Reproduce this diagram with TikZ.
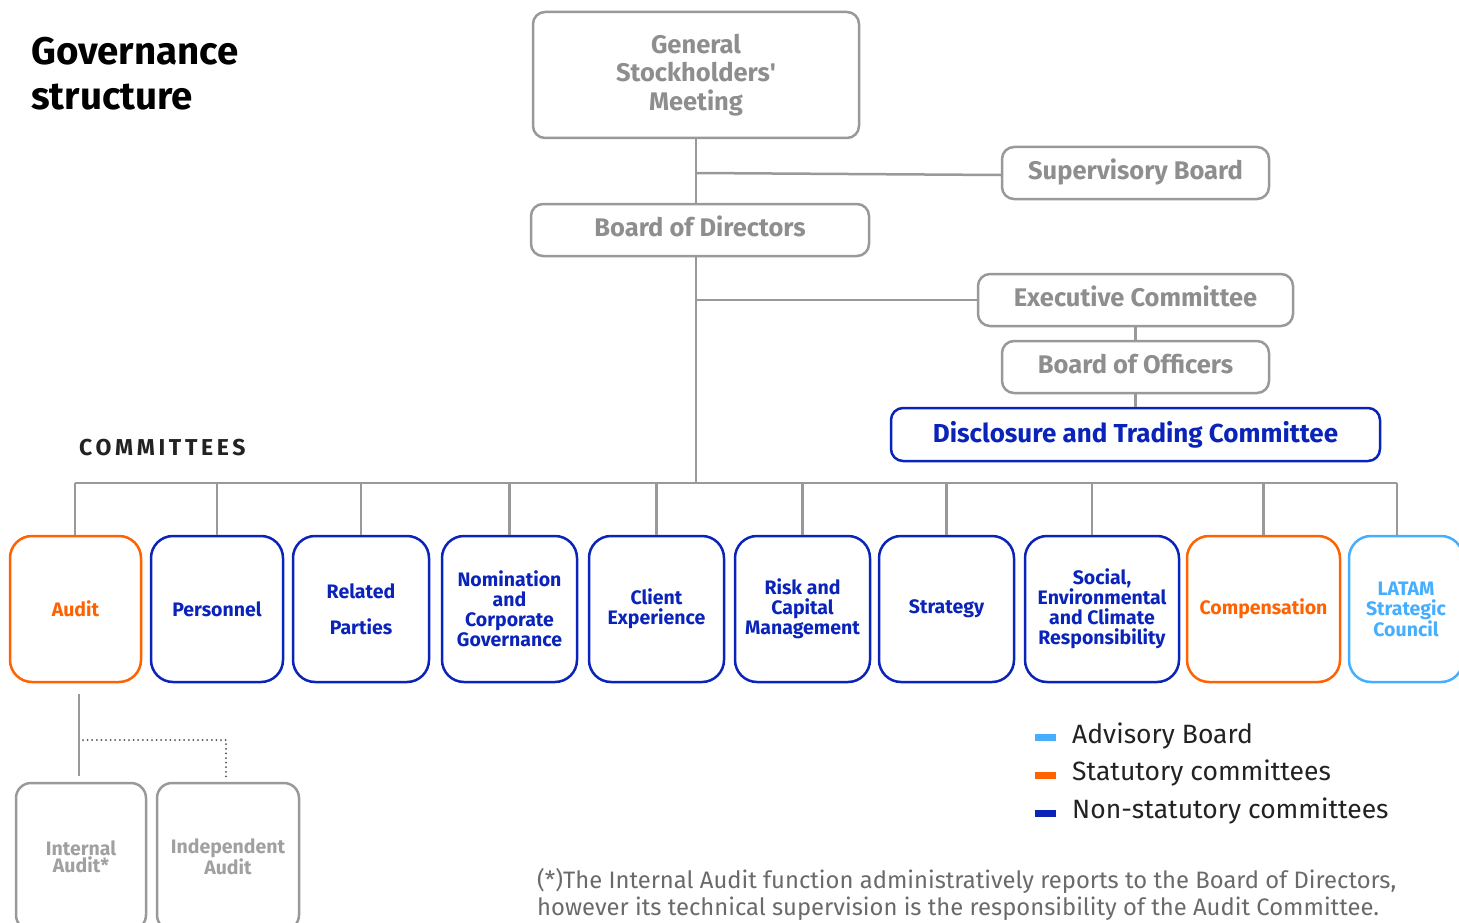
\documentclass[tikz,border=0pt]{standalone}
\usepackage{fontspec}
\setmainfont{Fira Sans}
\usepackage{tikz}
\usetikzlibrary{positioning}

\definecolor{linegray}{HTML}{999999}
\definecolor{textgray}{HTML}{8E8E8E}
\definecolor{subgray}{HTML}{A0A0A0}
\definecolor{statorange}{HTML}{FF6200}
\definecolor{nonstatblue}{HTML}{0A23B8}
\definecolor{advblue}{HTML}{45AEFF}
\definecolor{inkdark}{HTML}{222222}
\definecolor{notegray}{HTML}{6A6A6A}

\tikzset{
  wire/.style={draw=linegray,line width=2.5pt},
  board/.style={draw=linegray,line width=2.5pt,rounded corners=12pt,inner sep=0pt,
    text=textgray,align=center,font=\fontsize{25.5}{28.5}\selectfont\bfseries},
  oneline/.style={text height=18.5pt,text depth=5.5pt},
  committee/.style={line width=2.5pt,rounded corners=22pt,inner sep=0pt,
    minimum height=146pt,align=center,font=\fontsize{19.5}{20}\selectfont\bfseries},
  auditbox/.style={draw=linegray,line width=2.5pt,rounded corners=15pt,inner sep=0pt,
    minimum height=147pt,text=subgray,align=center,font=\fontsize{19.5}{17}\selectfont\bfseries},
  legend/.style={anchor=west,inner sep=0pt,text=inkdark,font=\fontsize{26.5}{26}\selectfont},
}

\begin{document}
\begin{tikzpicture}[x=1pt,y=-1pt]
  \useasboundingbox (0,0) rectangle (1459,923);

  % title
  \node[anchor=base west,inner sep=0pt,align=left,font=\fontsize{38.5}{45}\selectfont\bfseries] (title) at (31,110) {Governance\\structure};

  % upper boards
  \node[board,minimum width=326pt,minimum height=126pt] (gsm) at (696,75) {General\\Stockholders\textquotesingle\\Meeting};
  \node[board,oneline,minimum width=267pt,minimum height=52pt] (sup) at (1135.5,173) {Supervisory Board};
  \node[board,oneline,minimum width=338pt,minimum height=52pt] (bod) at (700,230) {Board of Directors};
  \node[board,oneline,minimum width=315pt,minimum height=52pt] (exe) at (1135.5,300) {Executive Committee};
  \node[board,oneline,minimum width=267pt,minimum height=52pt] (bof) at (1135.5,367) {Board of Officers};
  \node[board,draw=nonstatblue,text=nonstatblue,font=\fontsize{26}{28}\selectfont\bfseries,
    minimum width=489pt,minimum height=53pt] (dtc) at (1135.5,434.5) {Disclosure and Trading Committee};

  \node[anchor=base west,inner sep=0pt,text=inkdark,font=\fontsize{23}{23}\selectfont\bfseries\addfontfeature{LetterSpace=16}] (comlabel) at (79,455) {COMMITTEES};

  % committees
  \node[committee,draw=statorange,text=statorange,minimum width=131pt] (aud) at (75.5,609) {Audit};
  \node[committee,draw=nonstatblue,text=nonstatblue,minimum width=132pt] (per) at (217,609) {Personnel};
  \node[committee,draw=nonstatblue,text=nonstatblue,minimum width=136pt] (rel) at (361,609) {Related\\[16pt]Parties};
  \node[committee,draw=nonstatblue,text=nonstatblue,minimum width=135pt] (nom) at (509.5,609) {Nomination\\and\\Corporate\\Governance};
  \node[committee,draw=nonstatblue,text=nonstatblue,minimum width=135pt] (cli) at (656.5,609) {Client\\Experience};
  \node[committee,draw=nonstatblue,text=nonstatblue,minimum width=135pt] (risk) at (802.5,609) {Risk and\\Capital\\Management};
  \node[committee,draw=nonstatblue,text=nonstatblue,minimum width=135pt] (strat) at (946.5,609) {Strategy};
  \node[committee,draw=nonstatblue,text=nonstatblue,minimum width=154pt] (soc) at (1102,609) {Social,\\Environmental\\and Climate\\Responsibility};
  \node[committee,draw=statorange,text=statorange,minimum width=153pt] (comp) at (1263.5,609) {Compensation};
  \node[committee,draw=advblue,text=advblue,minimum width=114pt] (latam) at (1406,609) {LATAM\\Strategic\\Council};

  % audits
  \node[auditbox,minimum width=130pt] (ia) at (81,856.5) {Internal\\Audit*};
  \node[auditbox,minimum width=142pt] (ind) at (228,856.5) {Independent\\Audit};

  % connectors
  \coordinate (busL) at (75,483);
  \coordinate (busR) at (1397,483);
  \draw[wire] (gsm.south) -- (gsm.south |- bod.north);
  \draw[wire] (gsm.south |- sup.west) -- ([yshift=-2pt]sup.west);
  \draw[wire] (gsm.south |- bod.south) -- (gsm.south |- busL);
  \draw[wire] (gsm.south |- exe.west) -- (exe.west);
  \draw[wire] (exe.south) -- (bof.north);
  \draw[wire] (bof.south) -- (dtc.north);
  \draw[wire] (busL) -- (busR);
  \draw[wire] (busL) -- (busL |- aud.north);
  \foreach \c in {per,rel,nom,cli,risk,strat,comp}
    \draw[wire] (\c.north |- busL) -- (\c.north);
  \draw[wire] ([xshift=-10pt]soc.north |- busL) -- ([xshift=-10pt]soc.north);
  \draw[wire] (busR) -- (busR |- latam.north);
  \draw[wire,shorten <=11pt,shorten >=6pt] ([xshift=-2pt]ia.north |- aud.south) -- ([xshift=-2pt]ia.north);
  \coordinate (dotstart) at (83,740);
  \draw[draw=black!70,line width=2pt,line cap=round,dash pattern=on 0pt off 4.6pt,shorten >=4pt]
    (dotstart) -| ([xshift=-2pt]ind.north);

  % legend
  \fill[advblue] (1035,734) rectangle (1056,741);
  \fill[statorange] (1035,772) rectangle (1056,779);
  \fill[nonstatblue] (1035,810) rectangle (1056,817);
  \node[legend] (lgadv) at (1072,736) {Advisory Board};
  \node[legend] (lgstat) at (1072,773) {Statutory committees};
  \node[legend] (lgnon) at (1072,811) {Non-statutory committees};

  % footnote
  \node[anchor=base west,inner sep=0pt,align=left,text=notegray,font=\fontsize{23.8}{27}\selectfont] (note) at (537,915)
    {(*)The Internal Audit function administratively reports to the Board of Directors,\\however its technical supervision is the responsibility of the Audit Committee.};
\end{tikzpicture}
\end{document}
